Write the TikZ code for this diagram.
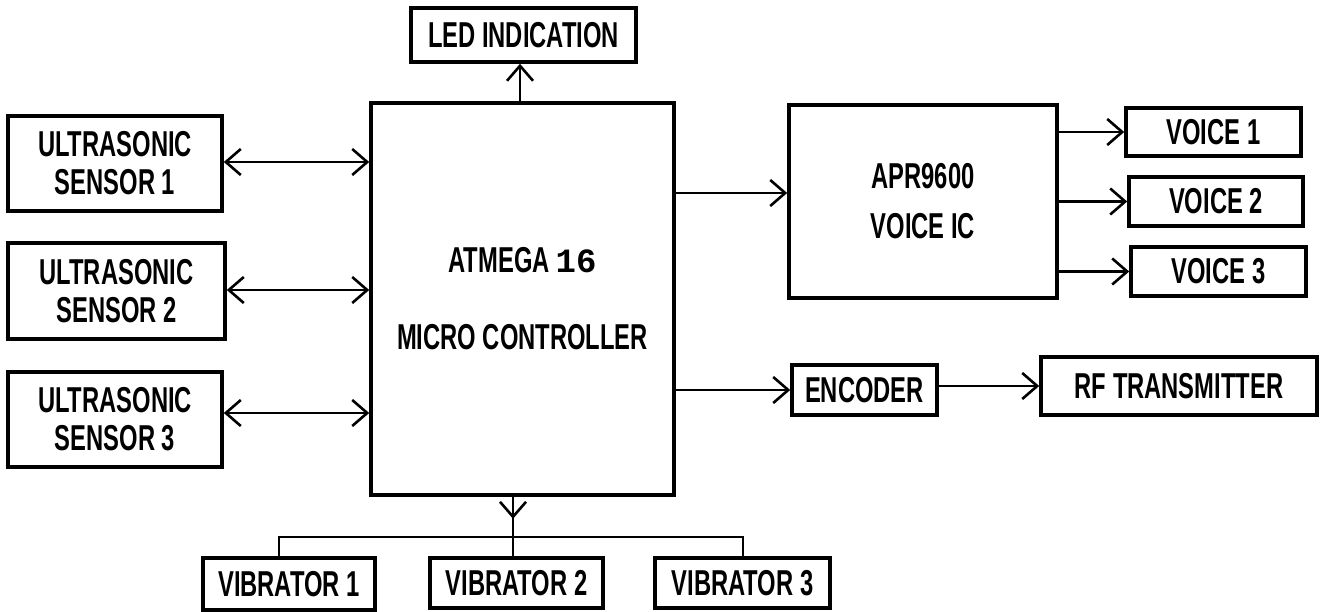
\documentclass[tikz,border=0pt]{standalone}
\usepackage{fontspec}
\setmainfont{Liberation Sans}[FakeStretch=0.66]
\newfontfamily\monof{Liberation Mono}
\usetikzlibrary{arrows.meta}
\begin{document}
\begin{tikzpicture}[x=1pt,y=-1pt,
  box/.style={draw, line width=3.6pt, rectangle, inner sep=0pt,
    font=\fontsize{36}{38}\selectfont\bfseries, align=center},
  conn/.style={line width=2.6pt},
  tipb/.tip={Straight Barb[length=15pt,width=26pt]},
  arr/.style={conn, -tipb},
  darr/.style={conn, tipb-tipb}]
\useasboundingbox (0,0) rectangle (1327,612);
% boxes
\node[box, minimum width=225pt, minimum height=54pt] (led) at (523.5,35) {LED INDICATION};
\node[box, minimum width=303pt, minimum height=392pt] (mcu) at (522.5,299)
  {ATMEGA\,{\monof\bfseries\fontsize{34}{38}\selectfont 16}\\[39pt]MICRO CONTROLLER};
\node[box, minimum width=214pt, minimum height=95pt] (us1) at (115,163.5) {ULTRASONIC\\SENSOR 1};
\node[box, minimum width=217pt, minimum height=96pt] (us2) at (116.5,291) {ULTRASONIC\\SENSOR 2};
\node[box, minimum width=214pt, minimum height=95pt] (us3) at (115,419.5) {ULTRASONIC\\SENSOR 3};
\node[box, minimum width=268pt, minimum height=193pt] (apr) at (923,201.5) {APR9600\\[12pt]VOICE IC};
\node[box, minimum width=175pt, minimum height=48pt] (v1) at (1213.5,132) {VOICE 1};
\node[box, minimum width=174pt, minimum height=49pt] (v2) at (1216,201.5) {VOICE 2};
\node[box, minimum width=175pt, minimum height=49pt] (v3) at (1218.5,271.5) {VOICE 3};
\node[box, minimum width=145pt, minimum height=50pt] (enc) at (864.5,390) {ENCODER};
\node[box, minimum width=276pt, minimum height=58pt] (rf) at (1179,386) {RF TRANSMITTER};
\node[box, minimum width=172pt, minimum height=52pt] (vib1) at (289,584) {VIBRATOR 1};
\node[box, minimum width=173pt, minimum height=50pt] (vib2) at (516.5,583) {VIBRATOR 2};
\node[box, minimum width=175pt, minimum height=50pt] (vib3) at (742.5,583) {VIBRATOR 3};
% LED
\coordinate (ledx) at (520,0);
\draw[arr] (mcu.north -| ledx) -- (led.south -| ledx);
% ultrasonic
\path (us1.east) ++(0,-1.5) coordinate (u1);
\path (us2.east) ++(0,-1) coordinate (u2);
\path (us3.east) ++(0,-6.5) coordinate (u3);
\draw[darr] (u1) -- (u1 -| mcu.west);
\draw[darr] (u2) -- (u2 -| mcu.west);
\draw[darr] (u3) -- (u3 -| mcu.west);
% voice IC
\path (apr.west) ++(0,-8.5) coordinate (a1);
\draw[arr] (a1 -| mcu.east) -- (a1);
\draw[arr] (v1.west -| apr.east) -- (v1.west);
\draw[arr] (v2.west -| apr.east) -- (v2.west);
\draw[arr] (v3.west -| apr.east) -- (v3.west);
% encoder
\draw[arr] (enc.west -| mcu.east) -- (enc.west);
\draw[arr] (rf.west -| enc.east) -- (rf.west);
% vibrators
\coordinate (busL) at (279,537);
\coordinate (busM) at (513,537);
\coordinate (busR) at (743,537);
\draw[conn] (mcu.south -| busM) -- (vib2.north -| busM);
\draw[arr] (mcu.south -| busM) -- ++(0,22);
\draw[conn] (vib1.north -| busL) -- (busL) -- (busR) -- (vib3.north -| busR);
\end{tikzpicture}
\end{document}
